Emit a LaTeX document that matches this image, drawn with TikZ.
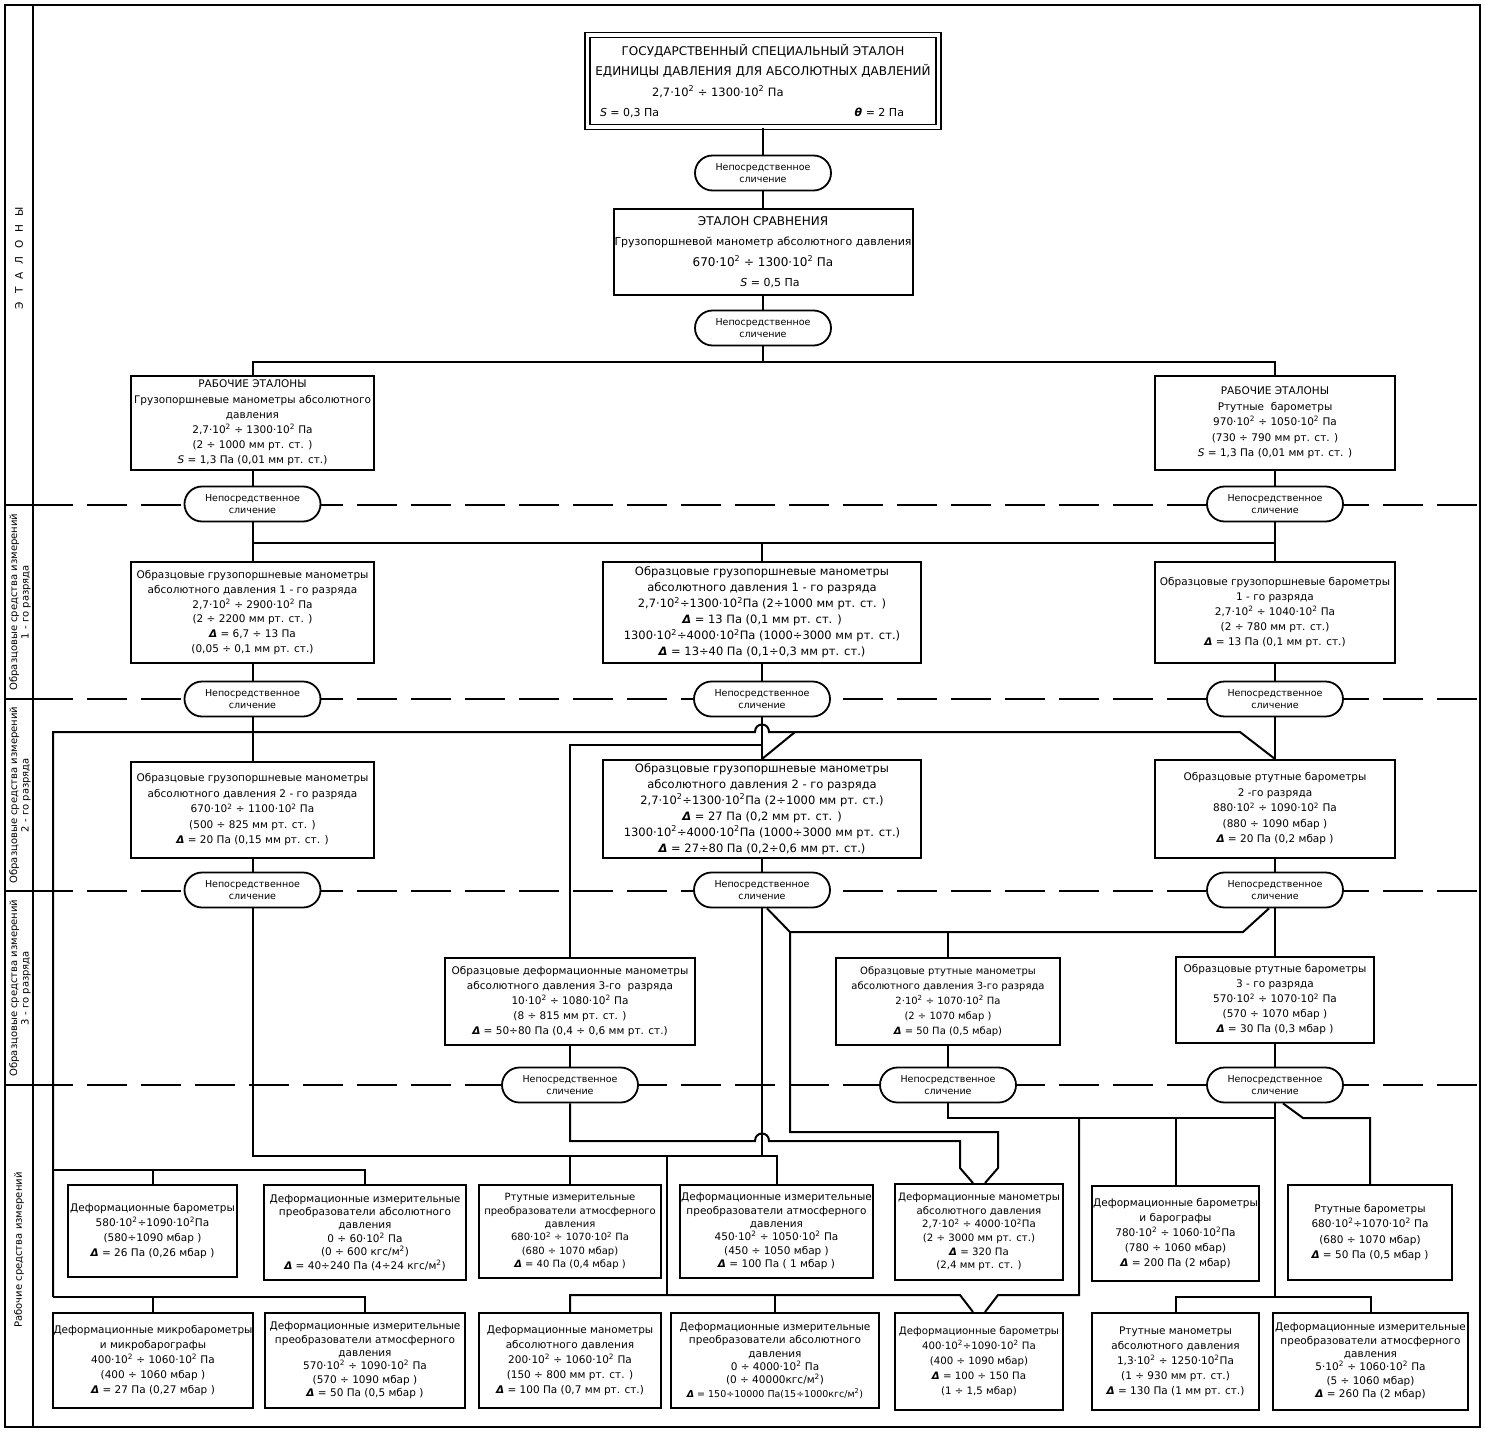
\documentclass[tikz,border=0pt]{standalone}
\usepackage{fontspec}
\setmainfont{DejaVu Sans}
\usetikzlibrary{shapes.misc}
\newcommand\tsq{\textsuperscript{2}}
\newcommand\Dl{{\bfseries\itshape Δ}}
\newcommand\Sg{{\itshape S}}
\newcommand\thetaS{{\bfseries\itshape θ}}
\newcommand\slich{Непосредственное\\сличение}
\newcommand\mkbox[7][]{\node[bx,minimum width={(#5-#3)*1pt},minimum height={(#6-#4)*1pt},#1] (#2) at ({(#3+#5)/2},{(#4+#6)/2}) {#7};}
\tikzset{
  bx/.style={draw, line width=2pt, fill=white, inner sep=1pt, align=center, font=\fontsize{10.5}{14}\selectfont},
  ov/.style={draw, rounded rectangle, line width=1.8pt, fill=white, minimum width=136pt, minimum height=35pt, inner sep=0pt, align=center, font=\fontsize{9.5}{12.5}\selectfont},
  ln/.style={line width=2pt},
  dsh/.style={line width=1.6pt, dash pattern=on 40pt off 14pt},
  side/.style={rotate=90, align=center, font=\fontsize{10}{11.5}\selectfont, inner sep=0pt},
}
\begin{document}
\begin{tikzpicture}[x=1pt,y=-1pt]
\useasboundingbox (0,0) rectangle (1485,1431);
% frame
\draw[line width=2pt] (5,5) rectangle (1480,1427);
\draw[line width=2pt] (33,5) -- (33,1427);
\foreach \yy in {505,699,891,1085} {
  \draw[line width=1.6pt] (5,\yy) -- (33,\yy);
  \draw[dsh] (33,\yy) -- (1480,\yy);
}
% side labels
\node[side, font=\fontsize{10.5}{11.5}\selectfont] (sE) at (19,258) {Э\hspace{8pt}Т\hspace{8pt}А\hspace{8pt}Л\hspace{8pt}О\hspace{8pt}Н\hspace{8pt}Ы};
\node[side] (s1) at (20,602) {Образцовые средства измерений\\1 - го разряда};
\node[side] (s2) at (20,795) {Образцовые средства измерений\\2 - го разряда};
\node[side] (s3) at (20,988) {Образцовые средства измерений\\3 - го разряда};
\node[side] (s4) at (19,1250) {Рабочие средства измерений};

% top
\node[bx, double, double distance=3.5pt, line width=1.6pt, minimum width=351pt, minimum height=92pt, font=\fontsize{12}{20.5}\selectfont] (GS) at (763,81)
 {ГОСУДАРСТВЕННЫЙ СПЕЦИАЛЬНЫЙ ЭТАЛОН\\ЕДИНИЦЫ ДАВЛЕНИЯ ДЛЯ АБСОЛЮТНЫХ ДАВЛЕНИЙ\\
  \makebox[334pt][l]{\hspace*{56pt}\fontsize{11.5}{20.5}\selectfont 2,7·10\tsq{} ÷ 1300·10\tsq{} Па}\\
  \makebox[334pt]{\fontsize{11}{20.5}\selectfont\hspace*{4pt}\Sg{} = 0,3 Па\hfill\thetaS{} = 2 Па\hspace*{26pt}}};
\node[ov] (O1) at (763,173) {\slich};
\mkbox[font=\fontsize{11}{20.5}\selectfont]{ES}{617.5}{209}{908.5}{295}{{\fontsize{12}{20.5}\selectfont ЭТАЛОН СРАВНЕНИЯ}\\Грузопоршневой манометр абсолютного давления\\{\fontsize{12}{20.5}\selectfont 670·10\tsq{} ÷ 1300·10\tsq{} Па}\\\hspace*{14pt}\Sg{} = 0,5 Па}
\node[ov] (O2) at (763,328) {\slich};

% working standards
\mkbox[font=\fontsize{10.5}{15.2}\selectfont]{RE1}{131}{376}{374}{470}{РАБОЧИЕ ЭТАЛОНЫ\\Грузопоршневые манометры абсолютного\\давления\\2,7·10\tsq{} ÷ 1300·10\tsq{} Па\\(2 ÷ 1000 мм рт. ст. )\\\Sg{} = 1,3 Па (0,01 мм рт. ст.)}
\mkbox[font=\fontsize{10.5}{15.5}\selectfont]{RE2}{1155}{376}{1395}{470}{РАБОЧИЕ ЭТАЛОНЫ\\Ртутные\ \ барометры\\970·10\tsq{} ÷ 1050·10\tsq{} Па\\(730 ÷ 790 мм рт. ст. )\\\Sg{} = 1,3 Па (0,01 мм рт. ст. )}
\node[ov] (O3L) at (252.5,504) {\slich};
\node[ov] (O3R) at (1275,504) {\slich};

% rank 1
\mkbox[font=\fontsize{10.5}{14.8}\selectfont]{B1L}{131}{562}{374}{663}{Образцовые грузопоршневые манометры\\абсолютного давления 1 - го разряда\\2,7·10\tsq{} ÷ 2900·10\tsq{} Па\\(2 ÷ 2200 мм рт. ст. )\\\Dl{} = 6,7 ÷ 13 Па\\(0,05 ÷ 0,1 мм рт. ст.)}
\mkbox[font=\fontsize{11.5}{16}\selectfont]{B1M}{603}{562}{921}{663}{Образцовые грузопоршневые манометры\\абсолютного давления 1 - го разряда\\2,7·10\tsq{}÷1300·10\tsq{}Па (2÷1000 мм рт. ст. )\\\Dl{} = 13 Па (0,1 мм рт. ст. )\\1300·10\tsq{}÷4000·10\tsq{}Па (1000÷3000 мм рт. ст.)\\\Dl{} = 13÷40 Па (0,1÷0,3 мм рт. ст.)}
\mkbox[font=\fontsize{10.5}{15}\selectfont]{B1R}{1155}{562}{1395}{663}{Образцовые грузопоршневые барометры\\1 - го разряда\\2,7·10\tsq{} ÷ 1040·10\tsq{} Па\\(2 ÷ 780 мм рт. ст.)\\\Dl{} = 13 Па (0,1 мм рт. ст.)}
\node[ov] (O4L) at (252.5,699) {\slich};
\node[ov] (O4M) at (762,699) {\slich};
\node[ov] (O4R) at (1275,699) {\slich};

% rank 2
\mkbox[font=\fontsize{10.5}{15.5}\selectfont]{B2L}{131}{762}{374}{858}{Образцовые грузопоршневые манометры\\абсолютного давления 2 - го разряда\\670·10\tsq{} ÷ 1100·10\tsq{} Па\\(500 ÷ 825 мм рт. ст. )\\\Dl{} = 20 Па (0,15 мм рт. ст. )}
\mkbox[font=\fontsize{11.5}{16}\selectfont]{B2M}{603}{760}{921}{858}{Образцовые грузопоршневые манометры\\абсолютного давления 2 - го разряда\\2,7·10\tsq{}÷1300·10\tsq{}Па (2÷1000 мм рт. ст.)\\\Dl{} = 27 Па (0,2 мм рт. ст. )\\1300·10\tsq{}÷4000·10\tsq{}Па (1000÷3000 мм рт. ст.)\\\Dl{} = 27÷80 Па (0,2÷0,6 мм рт. ст.)}
\mkbox[font=\fontsize{10.5}{15.5}\selectfont]{B2R}{1155}{760}{1395}{858}{Образцовые ртутные барометры\\2 -го разряда\\880·10\tsq{} ÷ 1090·10\tsq{} Па\\(880 ÷ 1090 мбар )\\\Dl{} = 20 Па (0,2 мбар )}
\node[ov] (O5L) at (252.5,890) {\slich};
\node[ov] (O5M) at (762,890) {\slich};
\node[ov] (O5R) at (1275,890) {\slich};

% rank 3
\mkbox[font=\fontsize{10.5}{15}\selectfont]{B3L}{445}{958}{695}{1045}{Образцовые деформационные манометры\\абсолютного давления 3-го\ \ разряда\\10·10\tsq{} ÷ 1080·10\tsq{} Па\\(8 ÷ 815 мм рт. ст. )\\\Dl{} = 50÷80 Па (0,4 ÷ 0,6 мм рт. ст.)}
\mkbox[font=\fontsize{10}{15}\selectfont]{B3M}{836}{958}{1060}{1045}{Образцовые ртутные манометры\\абсолютного давления 3-го разряда\\2·10\tsq{} ÷ 1070·10\tsq{} Па\\(2 ÷ 1070 мбар )\\\Dl{} = 50 Па (0,5 мбар)}
\mkbox[font=\fontsize{10.5}{15}\selectfont]{B3R}{1176}{957}{1374}{1043}{Образцовые ртутные барометры\\3 - го разряда\\570·10\tsq{} ÷ 1070·10\tsq{} Па\\(570 ÷ 1070 мбар )\\\Dl{} = 30 Па (0,3 мбар )}
\node[ov] (O6L) at (570,1085) {\slich};
\node[ov] (O6M) at (948,1085) {\slich};
\node[ov] (O6R) at (1275,1085) {\slich};

% working instruments, row A
\mkbox[font=\fontsize{10.5}{15}\selectfont]{A1}{68}{1185}{237}{1277}{Деформационные барометры\\580·10\tsq{}÷1090·10\tsq{}Па\\(580÷1090 мбар )\\\Dl{} = 26 Па (0,26 мбар )}
\mkbox[font=\fontsize{10.5}{13.4}\selectfont]{A2}{264}{1185}{466}{1280}{Деформационные измерительные\\преобразователи абсолютного\\давления\\0 ÷ 60·10\tsq{} Па\\(0 ÷ 600 кгс/м\tsq{})\\\Dl{} = 40÷240 Па (4÷24 кгс/м\tsq{})}
\mkbox[font=\fontsize{10}{13.4}\selectfont]{A3}{479}{1185}{661}{1278}{Ртутные измерительные\\преобразователи атмосферного\\давления\\680·10\tsq{} ÷ 1070·10\tsq{} Па\\(680 ÷ 1070 мбар)\\\Dl{} = 40 Па (0,4 мбар )}
\mkbox[font=\fontsize{10.5}{13.4}\selectfont]{A4}{680}{1185}{873}{1278}{Деформационные измерительные\\преобразователи атмосферного\\давления\\450·10\tsq{} ÷ 1050·10\tsq{} Па\\(450 ÷ 1050 мбар )\\\Dl{} = 100 Па ( 1 мбар )}
\mkbox[font=\fontsize{10.2}{13.6}\selectfont]{A5}{895}{1184}{1063}{1280}{Деформационные манометры\\абсолютного давления\\2,7·10\tsq{} ÷ 4000·10\tsq{}Па\\(2 ÷ 3000 мм рт. ст.)\\\Dl{} = 320 Па\\(2,4 мм рт. ст. )}
\mkbox[font=\fontsize{10.5}{15}\selectfont]{A6}{1092}{1186}{1259}{1281}{Деформационные барометры\\и барографы\\780·10\tsq{} ÷ 1060·10\tsq{}Па\\(780 ÷ 1060 мбар)\\\Dl{} = 200 Па (2 мбар)}
\mkbox[font=\fontsize{10.5}{15.5}\selectfont]{A7}{1288}{1185}{1452}{1280}{Ртутные барометры\\680·10\tsq{}÷1070·10\tsq{} Па\\(680 ÷ 1070 мбар)\\\Dl{} = 50 Па (0,5 мбар )}

% row B
\mkbox[font=\fontsize{10.5}{15}\selectfont]{B1}{53}{1313}{253}{1408}{Деформационные микробарометры\\и микробарографы\\400·10\tsq{} ÷ 1060·10\tsq{} Па\\(400 ÷ 1060 мбар )\\\Dl{} = 27 Па (0,27 мбар )}
\mkbox[font=\fontsize{10.5}{13.4}\selectfont]{B2}{265}{1313}{465}{1408}{Деформационные измерительные\\преобразователи атмосферного\\давления\\570·10\tsq{} ÷ 1090·10\tsq{} Па\\(570 ÷ 1090 мбар )\\\Dl{} = 50 Па (0,5 мбар )}
\mkbox[font=\fontsize{10.5}{15}\selectfont]{B3}{479}{1313}{661}{1408}{Деформационные манометры\\абсолютного давления\\200·10\tsq{} ÷ 1060·10\tsq{} Па\\(150 ÷ 800 мм рт. ст. )\\\Dl{} = 100 Па (0,7 мм рт. ст.)}
\mkbox[font=\fontsize{10.5}{13.4}\selectfont]{B4}{671}{1313}{879}{1408}{Деформационные измерительные\\преобразователи абсолютного\\давления\\0 ÷ 4000·10\tsq{} Па\\(0 ÷ 40000кгс/м\tsq{})\\{\fontsize{9.5}{13.4}\selectfont\Dl{} = 150÷10000 Па(15÷1000кгс/м\tsq{})}}
\mkbox[font=\fontsize{10.2}{15}\selectfont]{B5}{895}{1313}{1063}{1410}{Деформационные барометры\\400·10\tsq{}÷1090·10\tsq{} Па\\(400 ÷ 1090 мбар)\\\Dl{} = 100 ÷ 150 Па\\(1 ÷ 1,5 мбар)}
\mkbox[font=\fontsize{10.5}{15}\selectfont]{B6}{1092}{1313}{1259}{1410}{Ртутные манометры\\абсолютного давления\\1,3·10\tsq{} ÷ 1250·10\tsq{}Па\\(1 ÷ 930 мм рт. ст.)\\\Dl{} = 130 Па (1 мм рт. ст.)}
\mkbox[font=\fontsize{10.5}{13.4}\selectfont]{B7}{1273}{1313}{1468}{1410}{Деформационные измерительные\\преобразователи атмосферного\\давления\\5·10\tsq{} ÷ 1060·10\tsq{} Па\\(5 ÷ 1060 мбар)\\\Dl{} = 260 Па (2 мбар)}

% ---------- connectors ----------
\draw[ln] (GS.south) -- (O1.north);
\draw[ln] (O1.south) -- (ES.north);
\draw[ln] (ES.south) -- (O2.north);
\coordinate (a1) at (763,362);
\draw[ln] (O2.south) -- (a1);
\draw[ln] (RE1.north) |- (a1) -| (RE2.north);
\draw[ln] (RE1.south) -- (O3L.north);
\draw[ln] (RE2.south) -- (O3R.north);
\coordinate (a2) at (252.5,543);
\draw[ln] (O3L.south) -- (B1L.north);
\draw[ln] (O3R.south) -- (B1R.north);
\draw[ln] (a2) -- (a2 -| O3R.south);
\draw[ln] (B1M.north) -- (B1M.north |- a2);
% rank1 -> rank2
\draw[ln] (B1L.south) -- (O4L.north);
\draw[ln] (B1M.south) -- (O4M.north);
\draw[ln] (B1R.south) -- (O4R.north);
\draw[ln] (O4L.south) -- (B2L.north);
\draw[ln] (O4M.south) -- (B2M.north);
\draw[ln] (O4R.south) -- (B2R.north);
% long line at 732 with hop
\coordinate (c1) at (53,732);
\coordinate (c2) at (1240,732);
\coordinate (c3) at (795,732);
\coordinate (h1) at (762,732);
\coordinate (c4) at (53,1297);
\coordinate (c5) at (53,1170);
\draw[ln] (c4) -- (c1) -- ([xshift=-7pt]h1) .. controls ([xshift=-7pt,yshift=10pt]h1) and ([xshift=7pt,yshift=10pt]h1) .. ([xshift=7pt]h1) -- (c2) -- (B2R.north);
\draw[ln] (c3) -- (B2M.north);
\draw[ln] (c4) -| (B2.north);
\draw[ln] (B1.north) -- (B1.north |- c4);
\draw[ln] (c5) -| (A2.north);
\draw[ln] (A1.north) -- (A1.north |- c5);
% line at 745
\coordinate (d1) at (570,745);
\draw[ln] (B3L.north) -- (d1) -- (d1 -| O4M.south);
% rank2 -> rank3
\draw[ln] (B2L.south) -- (O5L.north);
\draw[ln] (B2M.south) -- (O5M.north);
\draw[ln] (B2R.south) -- (O5R.north);
\draw[ln] (O5R.south) -- (B3R.north);
\coordinate (e1) at (790,932);
\coordinate (e2) at (1243,932);
\draw[ln] ([xshift=5pt]O5M.south) -- (e1) -- (e2) -- ([xshift=-6pt]O5R.south);
\draw[ln] (B3M.north) -- (B3M.north |- e1);
\coordinate (e3) at (790,1132);
\coordinate (e4) at (998,1132);
\coordinate (e5) at (998,1168);
\draw[ln] (e1) -- (e3) -- (e4) -- (e5) -- ([xshift=6pt]A5.north);
% middle vertical and line at 1156
\coordinate (f1) at (762,1156);
\draw[ln] (O5M.south) -- (f1);
\coordinate (f0) at (252.5,1156);
\draw[ln] (O5L.south) -- (f0) -- (f0 -| A4.north) -- (A4.north);
\draw[ln] (A3.north) -- (A3.north |- f0);
\coordinate (f3) at (667,1156);
\coordinate (f4) at (667,1295);
\draw[ln] (f3) -- (f4);
% rank3 -> ovals
\draw[ln] (B3L.south) -- (O6L.north);
\draw[ln] (B3M.south) -- (O6M.north);
\draw[ln] (B3R.south) -- (O6R.north);
% line at 1141 with hop
\coordinate (g1) at (570,1141);
\coordinate (h2) at (762,1141);
\coordinate (g2) at (960,1141);
\coordinate (g3) at (960,1168);
\draw[ln] (O6L.south) -- (g1) -- ([xshift=-7pt]h2) .. controls ([xshift=-7pt,yshift=10pt]h2) and ([xshift=7pt,yshift=10pt]h2) .. ([xshift=7pt]h2) -- (g2) -- (g3) -- ([xshift=-6pt]A5.north);
% line at 1295
\coordinate (p1) at (570,1295);
\coordinate (p2) at (960,1295);
\draw[ln] (B3.north) -- (p1) -- (p2) -- ([xshift=-6pt]B5.north);
\draw[ln] (B4.north) -- (B4.north |- p1);
% from O6M
\coordinate (q1) at (948,1118);
\coordinate (q2) at (1275,1118);
\draw[ln] (O6M.south) -- (q1) -- (q2);
\coordinate (q3) at (1079,1118);
\coordinate (q4) at (1079,1295);
\coordinate (q5) at (998,1295);
\draw[ln] (q3) -- (q4) -- (q5) -- ([xshift=6pt]B5.north);
\draw[ln] (A6.north) -- (A6.north |- q1);
% from O6R
\coordinate (r1) at (1275,1297);
\draw[ln] (O6R.south) -- (r1);
\draw[ln] (B6.north) -- (B6.north |- r1) -- (B7.north |- r1) -- (B7.north);
\coordinate (r2) at (1303,1118);
\draw[ln] ([xshift=8pt]O6R.south) -- (r2) -- (r2 -| A7.north) -- (A7.north);
\end{tikzpicture}
\end{document}
